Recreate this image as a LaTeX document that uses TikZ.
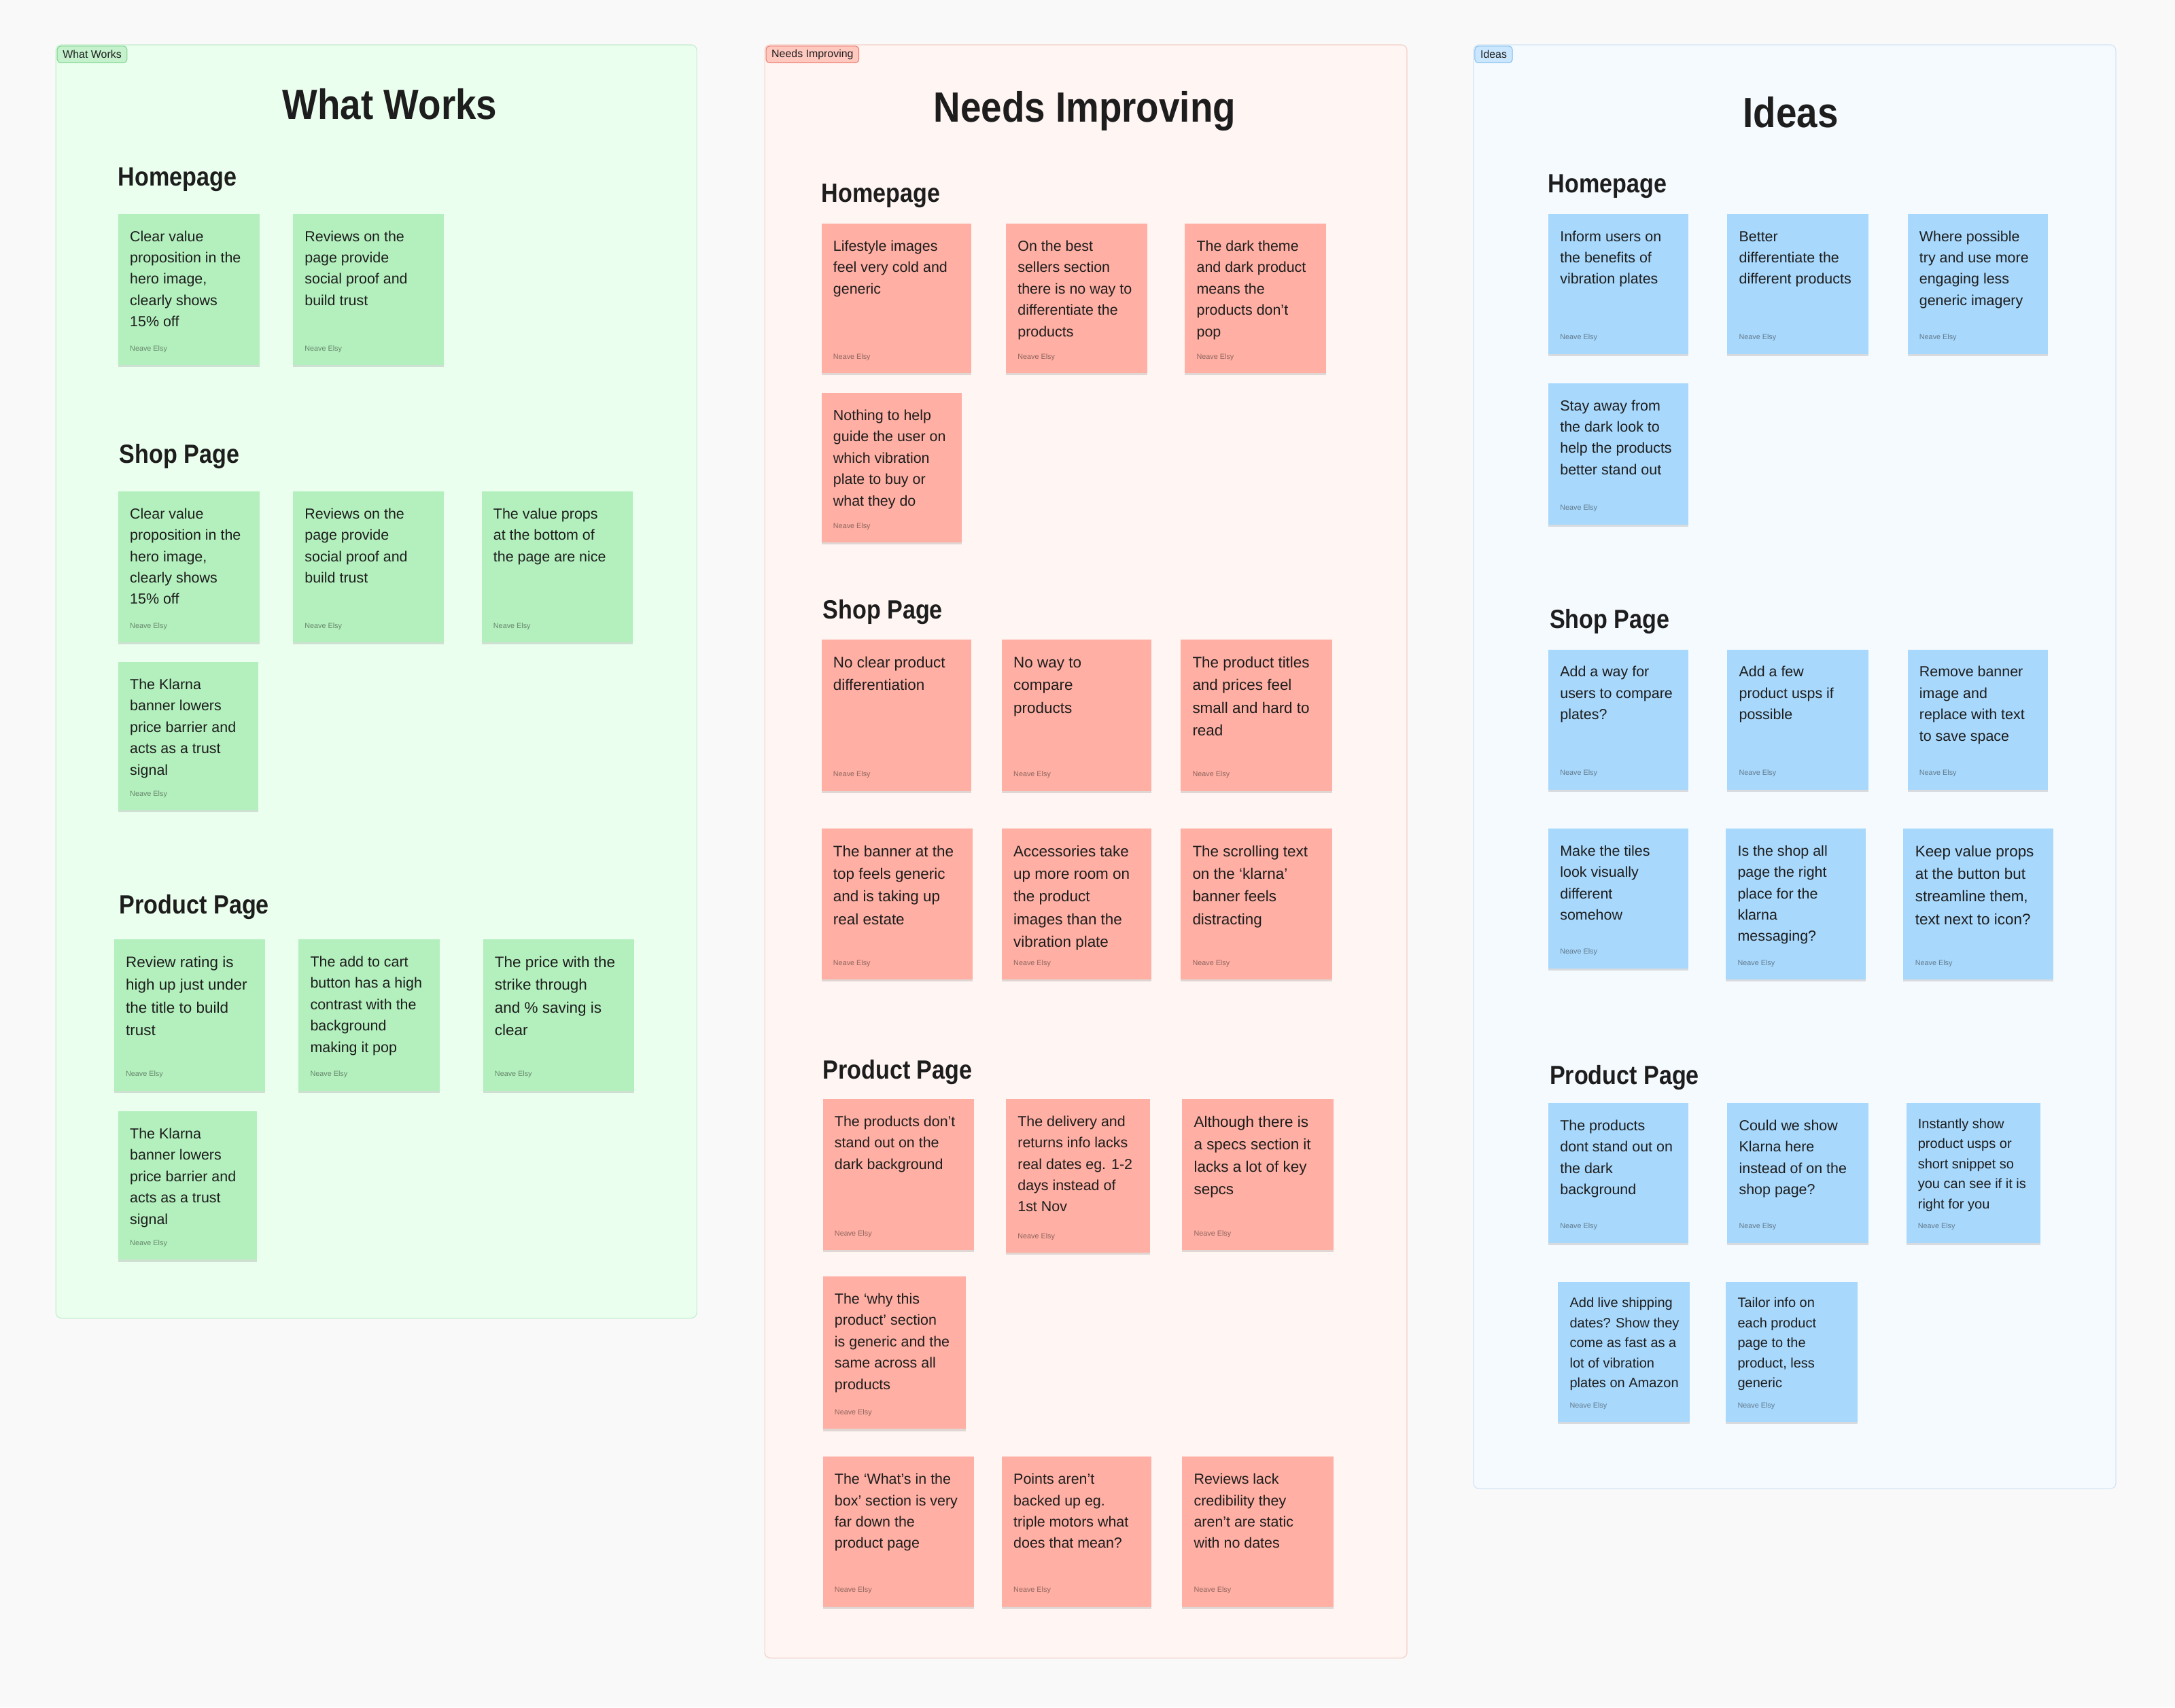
\documentclass[tikz,border=0pt]{standalone}
\usepackage{fontspec}
\setmainfont{Liberation Sans}
\newfontfamily\headfont[FakeStretch=0.88]{Liberation Sans}
\usetikzlibrary{shadows}

\definecolor{canvas}{HTML}{F9F9F9}
\definecolor{ink}{HTML}{1D1D1D}
\definecolor{wwpanel}{HTML}{EBFFEE}
\definecolor{wwline}{HTML}{C6EECF}
\definecolor{wwtag}{HTML}{C5F2CD}
\definecolor{wwtagline}{HTML}{7DD38E}
\definecolor{wwgreen}{HTML}{B3F0BD}
\definecolor{nipanel}{HTML}{FFF5F3}
\definecolor{niline}{HTML}{F5CFC8}
\definecolor{nitag}{HTML}{FFC9C0}
\definecolor{nitagline}{HTML}{E8786B}
\definecolor{nisalmon}{HTML}{FFAFA3}
\definecolor{idpanel}{HTML}{F5FAFF}
\definecolor{idline}{HTML}{D3E5F5}
\definecolor{idtag}{HTML}{CBE7FF}
\definecolor{idtagline}{HTML}{82BDEB}
\definecolor{idblue}{HTML}{A8D8FC}

\tikzset{
  panel/.style={draw, line width=0.6pt, rounded corners=4pt, anchor=north west, inner sep=0pt},
  tag/.style={draw, line width=0.5pt, rounded corners=2.5pt, anchor=north west,
    minimum height=12pt, inner xsep=4pt, inner ysep=0pt, text=ink, font=\fontsize{7.8}{9}\selectfont},
  title/.style={anchor=base, inner sep=0pt, text=ink, font=\headfont\bfseries\fontsize{30.5}{34}\selectfont},
  heading/.style={anchor=base west, inner sep=0pt, text=ink, font=\headfont\bfseries\fontsize{19}{22}\selectfont},
  sticky/.style={anchor=north west, inner sep=0pt,
    drop shadow={shadow xshift=0pt, shadow yshift=-1.5pt, opacity=0.12, fill=black}},
  wwnote/.style={fill=wwgreen},
  ninote/.style={fill=nisalmon},
  idnote/.style={fill=idblue},
  stickytext/.style={anchor=base west, inner sep=0pt, text=ink, font=\fontsize{10.5}{15.4}\selectfont},
  bigtext/.style={font=\fontsize{11}{16.3}\selectfont, yshift=-0.5pt},
  smalltext/.style={font=\fontsize{9.8}{14.5}\selectfont, yshift=1.5pt},
  stickyname/.style={anchor=base west, inner sep=0pt, text=ink, text opacity=0.5, font=\fontsize{5.3}{6}\selectfont}
}

% [text style]{name}{colour}{x}{y}{width}{height}{text}
\newcommand{\sticky}[8][]{%
  \node[sticky, #3, minimum width=#6pt, minimum height=#7pt] (#2) at (#4,#5) {};
  \node[stickytext, #1] (#2-text) at ([xshift=8.5pt, yshift=-20pt]#2.north west) {\parbox[t]{160pt}{#8}};
  \node[stickyname] (#2-name) at ([xshift=8.5pt, yshift=10.5pt]#2.south west) {Neave Elsy};
}

\begin{document}
\begin{tikzpicture}[x=1pt, y=-1pt]
  \useasboundingbox (0,0) rectangle (1568,1231);
  \fill[canvas] (0,0) rectangle (1568,1231);

  % the three boards
  \node[panel, draw=wwline, fill=wwpanel, minimum width=462pt, minimum height=918pt] (ww) at (40,32) {};
  \node[panel, draw=niline, fill=nipanel, minimum width=463pt, minimum height=1163pt] (ni) at (551,32) {};
  \node[panel, draw=idline, fill=idpanel, minimum width=463pt, minimum height=1041pt] (id) at (1062,32) {};

  \node[tag, draw=wwtagline, fill=wwtag] (ww-tag) at ([xshift=1pt, yshift=-1pt]ww.north west) {What Works};
  \node[tag, draw=nitagline, fill=nitag] (ni-tag) at ([xshift=1pt, yshift=-1pt]ni.north west) {Needs Improving};
  \node[tag, draw=idtagline, fill=idtag] (id-tag) at ([xshift=1pt, yshift=-1pt]id.north west) {Ideas};

  \node[title] (ww-title) at (281,86) {What Works};
  \node[title] (ni-title) at (782,88) {Needs Improving};
  \node[title] (id-title) at (1291,92) {Ideas};

  % What Works
  \node[heading] (ww-home) at (85,134) {Homepage};
  \sticky{ww-h1}{wwnote}{85}{154}{102}{109}{Clear value\\proposition in the\\hero image,\\clearly shows\\15\% off}
  \sticky{ww-h2}{wwnote}{211}{154}{109}{109}{Reviews on the\\page provide\\social proof and\\build trust}

  \node[heading] (ww-shop) at (86,334) {Shop Page};
  \sticky{ww-s1}{wwnote}{85}{354}{102}{109}{Clear value\\proposition in the\\hero image,\\clearly shows\\15\% off}
  \sticky{ww-s2}{wwnote}{211}{354}{109}{109}{Reviews on the\\page provide\\social proof and\\build trust}
  \sticky{ww-s3}{wwnote}{347}{354}{109}{109}{The value props\\at the bottom of\\the page are nice}
  \sticky{ww-s4}{wwnote}{85}{477}{101}{107}{The Klarna\\banner lowers\\price barrier and\\acts as a trust\\signal}

  \node[heading] (ww-prod) at (86,659) {Product Page};
  \sticky[bigtext]{ww-p1}{wwnote}{82}{677}{109}{109}{Review rating is\\high up just under\\the title to build\\trust}
  \sticky{ww-p2}{wwnote}{215}{677}{102}{109}{The add to cart\\button has a high\\contrast with the\\background\\making it pop}
  \sticky[bigtext]{ww-p3}{wwnote}{348}{677}{109}{109}{The price with the\\strike through\\and \% saving is\\clear}
  \sticky{ww-p4}{wwnote}{85}{801}{100}{107}{The Klarna\\banner lowers\\price barrier and\\acts as a trust\\signal}

  % Needs Improving
  \node[heading] (ni-home) at (592,146) {Homepage};
  \sticky{ni-h1}{ninote}{592}{161}{108}{108}{Lifestyle images\\feel very cold and\\generic}
  \sticky{ni-h2}{ninote}{725}{161}{102}{108}{On the best\\sellers section\\there is no way to\\differentiate the\\products}
  \sticky{ni-h3}{ninote}{854}{161}{102}{108}{The dark theme\\and dark product\\means the\\products don’t\\pop}
  \sticky{ni-h4}{ninote}{592}{283}{101}{108}{Nothing to help\\guide the user on\\which vibration\\plate to buy or\\what they do}

  \node[heading] (ni-shop) at (593,446) {Shop Page};
  \sticky[bigtext]{ni-s1}{ninote}{592}{461}{108}{109}{No clear product\\differentiation}
  \sticky[bigtext]{ni-s2}{ninote}{722}{461}{108}{109}{No way to\\compare\\products}
  \sticky[bigtext]{ni-s3}{ninote}{851}{461}{109}{109}{The product titles\\and prices feel\\small and hard to\\read}
  \sticky[bigtext]{ni-s4}{ninote}{592}{597}{109}{109}{The banner at the\\top feels generic\\and is taking up\\real estate}
  \sticky[bigtext]{ni-s5}{ninote}{722}{597}{108}{109}{Accessories take\\up more room on\\the product\\images than the\\vibration plate}
  \sticky[bigtext]{ni-s6}{ninote}{851}{597}{109}{109}{The scrolling text\\on the ‘klarna’\\banner feels\\distracting}

  \node[heading] (ni-prod) at (593,778) {Product Page};
  \sticky{ni-p1}{ninote}{593}{792}{109}{109}{The products don’t\\stand out on the\\dark background}
  \sticky{ni-p2}{ninote}{725}{792}{104}{111}{The delivery and\\returns info lacks\\real dates eg. 1-2\\days instead of\\1st Nov}
  \sticky[bigtext]{ni-p3}{ninote}{852}{792}{109}{109}{Although there is\\a specs section it\\lacks a lot of key\\sepcs}
  \sticky{ni-p4}{ninote}{593}{920}{103}{110}{The ‘why this\\product’ section\\is generic and the\\same across all\\products}
  \sticky{ni-p5}{ninote}{593}{1050}{109}{108}{The ‘What’s in the\\box’ section is very\\far down the\\product page}
  \sticky{ni-p6}{ninote}{722}{1050}{108}{108}{Points aren’t\\backed up eg.\\triple motors what\\does that mean?}
  \sticky{ni-p7}{ninote}{852}{1050}{109}{108}{Reviews lack\\credibility they\\aren’t are static\\with no dates}

  % Ideas
  \node[heading] (id-home) at (1116,139) {Homepage};
  \sticky{id-h1}{idnote}{1116}{154}{101}{101}{Inform users on\\the benefits of\\vibration plates}
  \sticky{id-h2}{idnote}{1245}{154}{102}{101}{Better\\differentiate the\\different products}
  \sticky{id-h3}{idnote}{1375}{154}{101}{101}{Where possible\\try and use more\\engaging less\\generic imagery}
  \sticky{id-h4}{idnote}{1116}{276}{101}{102}{Stay away from\\the dark look to\\help the products\\better stand out}

  \node[heading] (id-shop) at (1117,453) {Shop Page};
  \sticky{id-s1}{idnote}{1116}{468}{101}{101}{Add a way for\\users to compare\\plates?}
  \sticky{id-s2}{idnote}{1245}{468}{102}{101}{Add a few\\product usps if\\possible}
  \sticky{id-s3}{idnote}{1375}{468}{101}{101}{Remove banner\\image and\\replace with text\\to save space}
  \sticky{id-s4}{idnote}{1116}{597}{101}{101}{Make the tiles\\look visually\\different\\somehow}
  \sticky{id-s5}{idnote}{1244}{597}{101}{109}{Is the shop all\\page the right\\place for the\\klarna\\messaging?}
  \sticky[bigtext]{id-s6}{idnote}{1372}{597}{108}{109}{Keep value props\\at the button but\\streamline them,\\text next to icon?}

  \node[heading] (id-prod) at (1117,782) {Product Page};
  \sticky{id-p1}{idnote}{1116}{795}{101}{101}{The products\\dont stand out on\\the dark\\background}
  \sticky{id-p2}{idnote}{1245}{795}{102}{101}{Could we show\\Klarna here\\instead of on the\\shop page?}
  \sticky[smalltext]{id-p3}{idnote}{1374}{795}{97}{101}{Instantly show\\product usps or\\short snippet so\\you can see if it is\\right for you}
  \sticky[smalltext]{id-p4}{idnote}{1123}{924}{95}{101}{Add live shipping\\dates? Show they\\come as fast as a\\lot of vibration\\plates on Amazon}
  \sticky[smalltext]{id-p5}{idnote}{1244}{924}{95}{101}{Tailor info on\\each product\\page to the\\product, less\\generic}
\end{tikzpicture}
\end{document}
